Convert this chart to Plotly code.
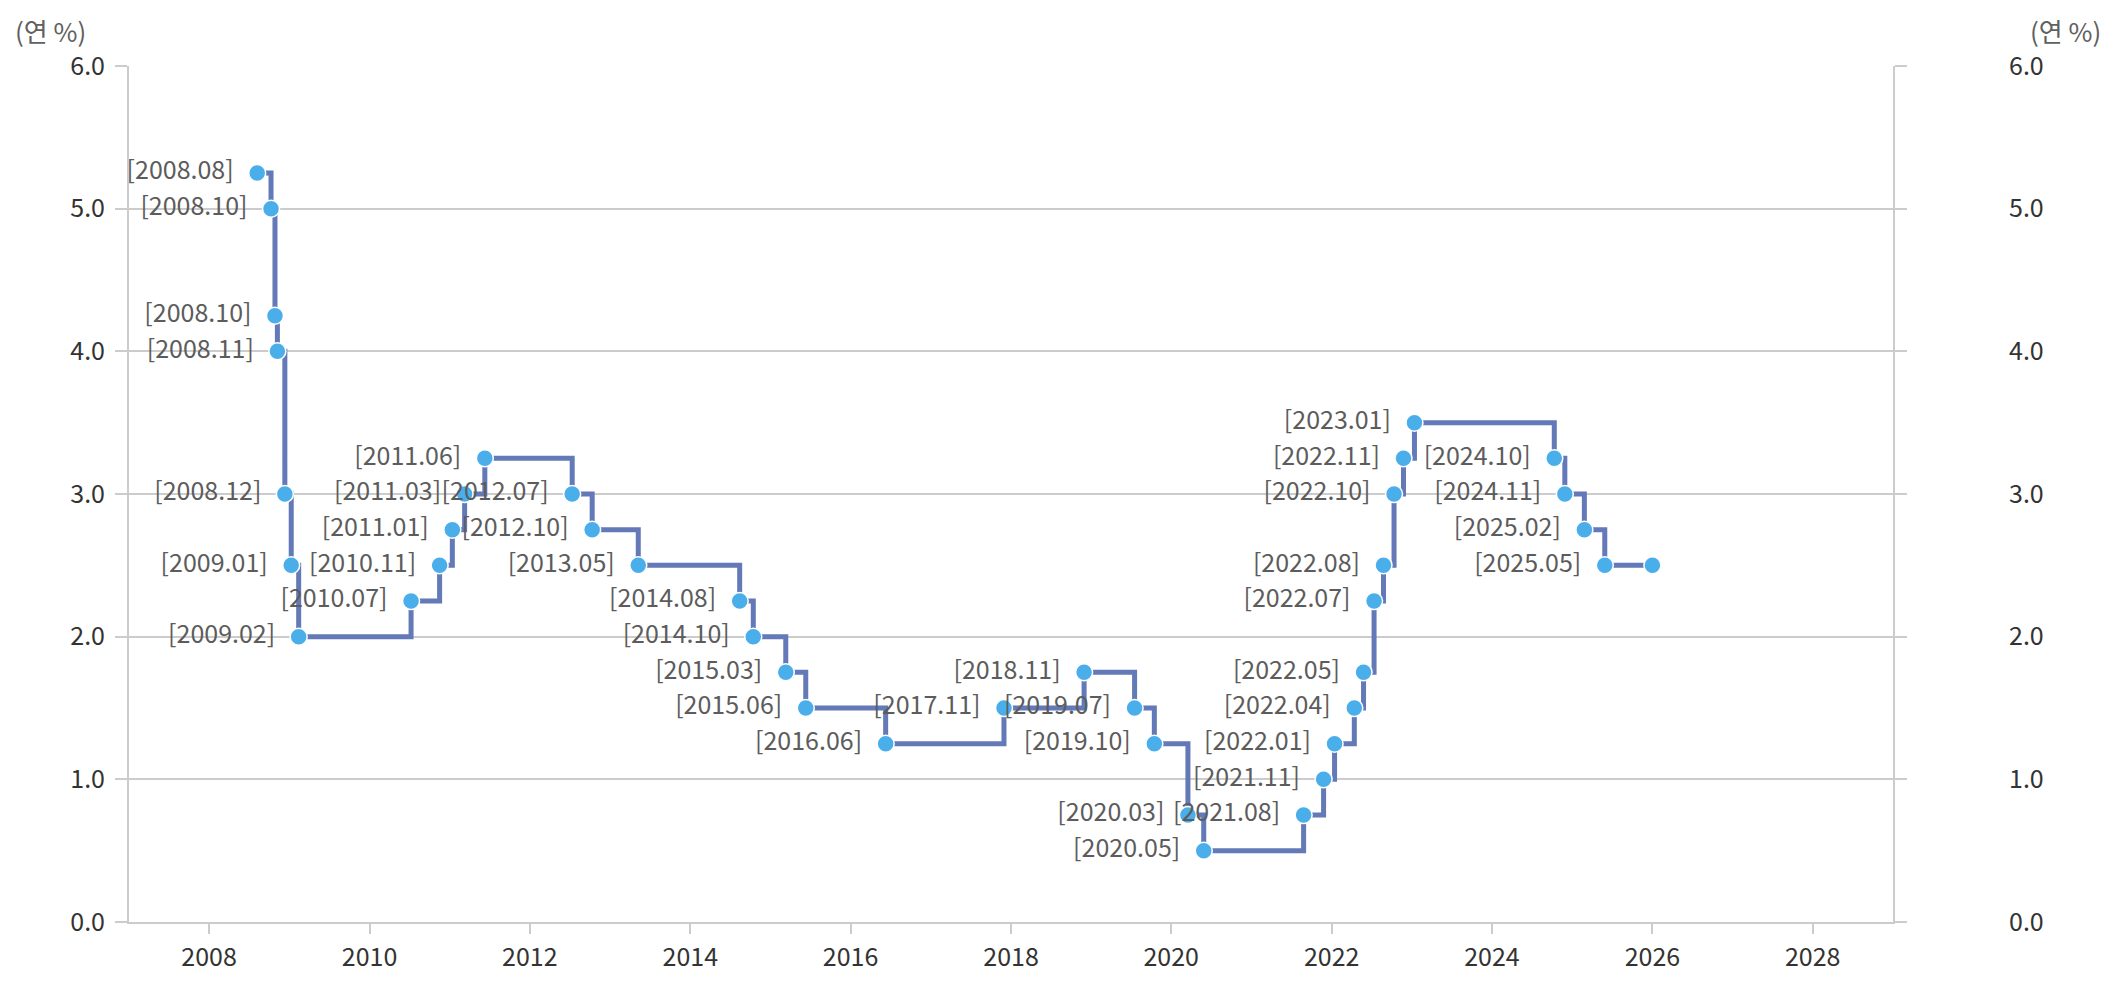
import plotly.graph_objects as go

dates = ["2008-08-07", "2008-10-09", "2008-10-27", "2008-11-07", "2008-12-11",
         "2009-01-09", "2009-02-12", "2010-07-09", "2010-11-16", "2011-01-13",
         "2011-03-10", "2011-06-10", "2012-07-12", "2012-10-11", "2013-05-09",
         "2014-08-14", "2014-10-15", "2015-03-12", "2015-06-11", "2016-06-09",
         "2017-11-30", "2018-11-30", "2019-07-18", "2019-10-16", "2020-03-17",
         "2020-05-28", "2021-08-26", "2021-11-25", "2022-01-14", "2022-04-14",
         "2022-05-26", "2022-07-13", "2022-08-25", "2022-10-12", "2022-11-24",
         "2023-01-13", "2024-10-11", "2024-11-28", "2025-02-25", "2025-05-29",
         "2026-01-01"]
rates = [5.25, 5.00, 4.25, 4.00, 3.00,
         2.50, 2.00, 2.25, 2.50, 2.75,
         3.00, 3.25, 3.00, 2.75, 2.50,
         2.25, 2.00, 1.75, 1.50, 1.25,
         1.50, 1.75, 1.50, 1.25, 0.75,
         0.50, 0.75, 1.00, 1.25, 1.50,
         1.75, 2.25, 2.50, 3.00, 3.25,
         3.50, 3.25, 3.00, 2.75, 2.50,
         2.50]
labels = ["[2008.08]", "[2008.10]", "[2008.10]", "[2008.11]", "[2008.12]",
          "[2009.01]", "[2009.02]", "[2010.07]", "[2010.11]", "[2011.01]",
          "[2011.03]", "[2011.06]", "[2012.07]", "[2012.10]", "[2013.05]",
          "[2014.08]", "[2014.10]", "[2015.03]", "[2015.06]", "[2016.06]",
          "[2017.11]", "[2018.11]", "[2019.07]", "[2019.10]", "[2020.03]",
          "[2020.05]", "[2021.08]", "[2021.11]", "[2022.01]", "[2022.04]",
          "[2022.05]", "[2022.07]", "[2022.08]", "[2022.10]", "[2022.11]",
          "[2023.01]", "[2024.10]", "[2024.11]", "[2025.02]", "[2025.05]",
          ""]
x_ticks = ["2008-01-01", "2010-01-01", "2012-01-01", "2014-01-01", "2016-01-01",
           "2018-01-01", "2020-01-01", "2022-01-01", "2024-01-01", "2026-01-01",
           "2028-01-01"]
x_tick_text = ["2008", "2010", "2012", "2014", "2016", "2018", "2020", "2022",
               "2024", "2026", "2028"]
unit_label = "(연 %)"

FONT = "Noto Sans CJK KR, Noto Sans, sans-serif"
LINE = "#6379b8"
MARK = "#4aaeea"
GRID = "#cccccc"
TICKFONT = dict(family=FONT, size=25, color="#333333")

fig = go.Figure()
# step line
fig.add_trace(go.Scatter(
    x=dates, y=rates, mode="lines",
    line=dict(shape="hv", color=LINE, width=5),
    hoverinfo="skip", showlegend=False,
))
# visible markers
fig.add_trace(go.Scatter(
    x=dates, y=rates, mode="markers",
    marker=dict(size=17, color=MARK, line=dict(color="white", width=1.5)),
    showlegend=False,
))
# labels (transparent larger marker only sets the text offset)
fig.add_trace(go.Scatter(
    x=dates, y=rates, mode="markers+text", text=labels,
    textposition="middle left",
    textfont=dict(family=FONT, size=25, color="#5c5c5c"),
    marker=dict(size=36, color="rgba(0,0,0,0)"),
    hoverinfo="skip", showlegend=False,
))
fig.add_trace(go.Scatter(
    x=[dates[0]], y=[rates[0]], yaxis="y2", mode="lines",
    line=dict(width=0), hoverinfo="skip", showlegend=False,
))

fig.update_layout(
    width=2120, height=1006,
    margin=dict(l=121, r=235, t=58, b=92),
    paper_bgcolor="white", plot_bgcolor="white",
    font=dict(family=FONT, size=25, color="#333333"),
    xaxis=dict(
        type="date", range=["2007-01-01", "2029-01-01"],
        tickvals=x_ticks, ticktext=x_tick_text,
        showgrid=False, showline=True, linecolor=GRID, linewidth=2,
        ticks="outside", ticklen=10, tickcolor=GRID, tickwidth=2,
        tickfont=TICKFONT, ticklabelstandoff=2,
        zeroline=False,
    ),
    yaxis=dict(
        range=[0, 6], dtick=1, tickformat=".1f",
        showgrid=True, gridcolor=GRID, gridwidth=2,
        showline=True, linecolor=GRID, linewidth=2,
        ticks="outside", ticklen=12, tickcolor=GRID, tickwidth=2,
        tickfont=TICKFONT, ticklabelstandoff=5,
        zeroline=False,
    ),
    yaxis2=dict(
        range=[0, 6], dtick=1, tickformat=".1f", overlaying="y", side="right",
        showgrid=False, showline=True, linecolor=GRID, linewidth=2,
        ticks="outside", ticklen=12, tickcolor=GRID, tickwidth=2,
        ticklabelstandoff=97,
        tickfont=TICKFONT,
        zeroline=False,
    ),
    annotations=[
        dict(text=unit_label, xref="paper", yref="paper", x=-0.066, y=1.042,
             xanchor="left", yanchor="middle", showarrow=False,
             font=dict(family=FONT, size=26, color="#606060")),
        dict(text=unit_label, xref="paper", yref="paper", x=1.119, y=1.042,
             xanchor="right", yanchor="middle", showarrow=False,
             font=dict(family=FONT, size=26, color="#606060")),
    ],
)

fig.write_html("out.html")
